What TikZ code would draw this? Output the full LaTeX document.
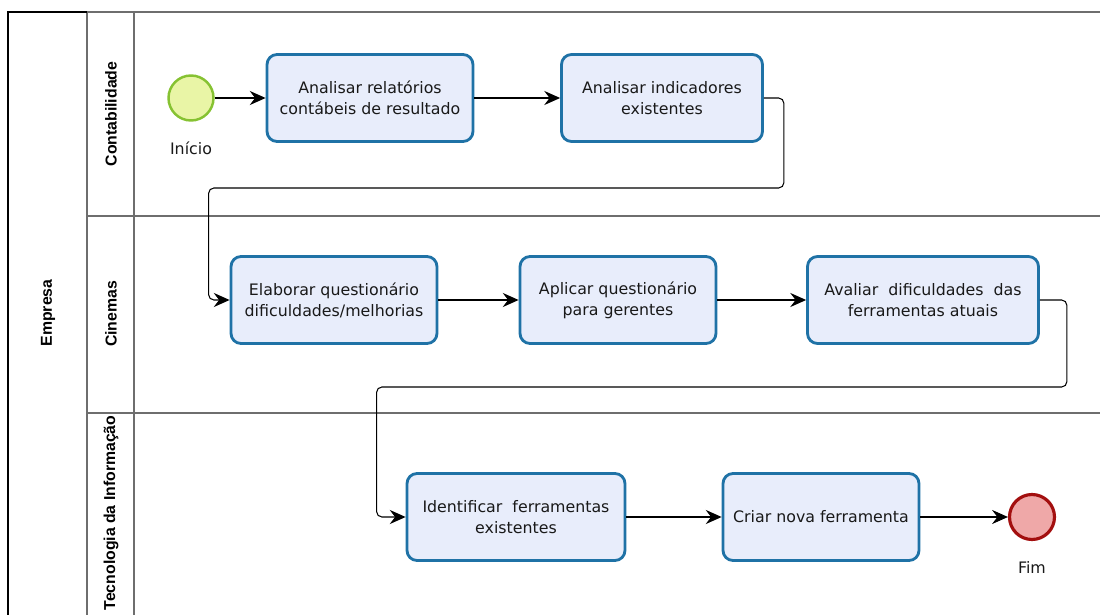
\documentclass[tikz,border=0pt]{standalone}
\usepackage{fontspec}
\setmainfont{DejaVu Sans}
\newfontfamily\lanefont{Liberation Sans}
\usetikzlibrary{arrows.meta}
\definecolor{taskfill}{HTML}{E8EDFB}
\definecolor{taskline}{HTML}{1F72A6}
\definecolor{startfill}{HTML}{E9F5A6}
\definecolor{startline}{HTML}{86C232}
\definecolor{endfill}{HTML}{EFA8A8}
\definecolor{endline}{HTML}{A30F0F}
\definecolor{laneline}{HTML}{6E6E6E}
\tikzset{
  task/.style={draw=taskline,fill=taskfill,line width=1.6pt,rounded corners=0.2cm,
    align=center,minimum height=1.74cm,inner sep=2pt,text=black!90,
    font=\fontsize{9}{11.9}\selectfont},
  startev/.style={circle,draw=startline,fill=startfill,line width=1.4pt,minimum size=0.9cm},
  endev/.style={circle,draw=endline,fill=endfill,line width=1.8pt,minimum size=0.9cm},
  evlabel/.style={font=\fontsize{9}{10}\selectfont,text=black!90},
  lanelabel/.style={rotate=90,font=\lanefont\bfseries\fontsize{9}{10}\selectfont},
  flow/.style={-{Stealth[length=9pt,width=8pt,inset=3pt]},line width=0.6pt,rounded corners=3pt}
}
\begin{document}
\begin{tikzpicture}[x=0.02cm,y=-0.02cm]
\useasboundingbox (0,0) rectangle (1100,615);
% pool and lanes
\draw[laneline,line width=0.8pt] (87,12) -- (1100,12);
\draw[laneline,line width=0.8pt] (87,216) -- (1100,216);
\draw[laneline,line width=0.8pt] (87,413) -- (1100,413);
\draw[laneline,line width=0.8pt] (87,12) -- (87,615);
\draw[laneline,line width=0.8pt] (134,12) -- (134,615);
\draw[black,line width=1pt] (8,615) -- (8,12) -- (87,12);
\node[lanelabel] (pool) at (48,313) {Empresa};
\node[lanelabel] (lane1) at (111,114) {Contabilidade};
\node[lanelabel] (lane2) at (111,314) {Cinemas};
\node[lanelabel] (lane3) at (111,513) {Tecnologia da Informação};
% events and tasks
\node[startev] (inicio) at (191,98) {};
\node[evlabel] at (191,148) {Início};
\node[task,minimum width=4.12cm] (a1) at (370,98) {Analisar relatórios\\contábeis de resultado};
\node[task,minimum width=4.02cm] (a2) at (662,98) {Analisar indicadores\\existentes};
\node[task,minimum width=4.12cm] (b1) at (334,300) {Elaborar questionário\\dificuldades/melhorias};
\node[task,minimum width=3.92cm] (b2) at (618,300) {Aplicar questionário\\para gerentes};
\node[task,minimum width=4.62cm] (b3) at (923,300) {Avaliar\ \ dificuldades\ \ das\\ferramentas atuais};
\node[task,minimum width=4.36cm] (c1) at (516,517) {Identificar\ \ ferramentas\\existentes};
\node[task,minimum width=3.92cm] (c2) at (821,517) {Criar nova ferramenta};
\node[endev] (fim) at (1032,517) {};
\node[evlabel] at (1032,567) {Fim};
% sequence flows
\draw[flow] (inicio) -- (a1);
\draw[flow] (a1) -- (a2);
\draw[flow] (a2.east) -- ++(20,0) -- ++(0,90) -| ([xshift=-0.42cm]b1.west) -- (b1.west);
\draw[flow] (b1) -- (b2);
\draw[flow] (b2) -- (b3);
\draw[flow] (b3.east) -- ++(27,0) -- ++(0,87) -| ([xshift=-0.58cm]c1.west) -- (c1.west);
\draw[flow] (c1) -- (c2);
\draw[flow] (c2) -- (fim);
\end{tikzpicture}
\end{document}
